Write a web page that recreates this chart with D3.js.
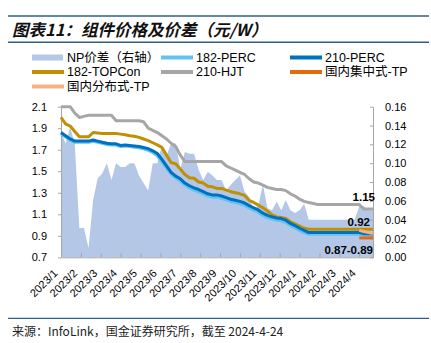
<!DOCTYPE html>
<html><head><meta charset="utf-8">
<script src="https://cdn.jsdelivr.net/npm/d3@7"></script>
<style>
body{margin:0;background:#fff;}
svg{display:block;font-family:"Liberation Sans",Arial,"Noto Sans CJK SC",sans-serif;}
</style></head><body>
<svg id="c" width="431" height="343"></svg>
<script>
// ---- data ----
const monthLabels = ["2023/1","2023/2","2023/3","2023/4","2023/5","2023/6","2023/7","2023/8","2023/9","2023/10","2023/11","2023/12","2024/1","2024/2","2024/3","2024/4"];
const leftTicks = [0.7,0.9,1.1,1.3,1.5,1.7,1.9,2.1];
const rightTicks = [0,0.02,0.04,0.06,0.08,0.10,0.12,0.14,0.16];
const weeksPerMonth = 52/12;

const npSpread = [0.133,0.121,0.138,0.121,0.031,0.031,0.010,0.061,0.084,0.089,
  0.100,0.082,0.100,0.096,0.096,0.100,0.100,0.087,0.079,0.071,
  0.100,0.100,0.119,0.108,0.121,0.121,0.094,0.112,0.110,0.110,
  0.093,0.082,0.091,0.087,0.082,0.082,0.071,0.077,0.082,0.087,
  0.070,0.064,0.050,0.055,0.077,0.052,0.050,0.059,0.050,0.061,
  0.050,0.047,0.050,0.057,0.040,0.040,0.040,0.040,0.040,0.040,
  0.040,0.040,0.040,0.040,0.040,0.054,0.054,0.050,0.050];
const perc182 = [1.85,1.82,1.79,1.77,1.77,1.77,1.77,1.78,1.77,1.76,
  1.75,1.745,1.745,1.73,1.735,1.73,1.725,1.72,1.71,1.695,
  1.675,1.645,1.59,1.53,1.475,1.44,1.41,1.375,1.345,1.325,
  1.31,1.29,1.27,1.26,1.26,1.25,1.235,1.22,1.21,1.20,
  1.185,1.16,1.14,1.12,1.09,1.07,1.056,1.045,1.04,1.025,
  0.995,0.975,0.95,0.93,0.915,0.915,0.915,0.915,0.915,0.915,
  0.915,0.915,0.915,0.915,0.915,0.915,0.905,0.905,0.905];
const perc210 = [1.86,1.83,1.80,1.78,1.78,1.78,1.78,1.79,1.78,1.77,
  1.76,1.755,1.755,1.74,1.745,1.74,1.735,1.73,1.72,1.71,
  1.69,1.665,1.61,1.55,1.49,1.455,1.43,1.39,1.365,1.345,
  1.33,1.31,1.29,1.28,1.28,1.27,1.255,1.24,1.23,1.22,
  1.205,1.18,1.16,1.14,1.11,1.09,1.076,1.065,1.06,1.045,
  1.015,0.995,0.97,0.95,0.93,0.93,0.93,0.93,0.93,0.93,
  0.93,0.93,0.93,0.93,0.93,0.93,0.92,0.92,0.92];
const topcon182 = [2.00,1.94,1.92,1.87,1.82,1.82,1.82,1.86,1.855,1.85,
  1.85,1.85,1.85,1.845,1.84,1.83,1.825,1.815,1.80,1.785,
  1.765,1.745,1.72,1.65,1.58,1.57,1.52,1.47,1.44,1.435,
  1.40,1.39,1.36,1.355,1.34,1.34,1.325,1.31,1.30,1.29,
  1.275,1.23,1.21,1.185,1.16,1.13,1.095,1.075,1.07,1.06,
  1.03,1.01,0.99,0.97,0.96,0.96,0.96,0.96,0.96,0.96,
  0.96,0.96,0.96,0.96,0.96,0.96,0.96,0.96,0.96];
const hjt210 = [2.10,2.10,2.10,2.04,2.00,2.01,2.02,2.02,2.02,2.02,
  2.02,2.02,1.97,1.97,1.97,1.97,1.97,1.97,1.96,1.90,
  1.88,1.86,1.83,1.80,1.76,1.73,1.65,1.59,1.59,1.59,
  1.59,1.59,1.59,1.59,1.59,1.59,1.55,1.53,1.51,1.49,
  1.47,1.43,1.40,1.39,1.37,1.35,1.34,1.33,1.33,1.32,
  1.29,1.27,1.24,1.22,1.21,1.20,1.19,1.19,1.19,1.19,
  1.19,1.19,1.19,1.19,1.19,1.19,1.15,1.15,1.15];
const tpCentral = Array(65).fill(null).concat([0.88,0.88,0.88,0.88]);
const tpDistributed = Array(65).fill(null).concat([0.95,0.94,0.93,0.92]);

const endLabels = ["1.15","0.92","0.87-0.89"];

// ---- layout ----
const svg = d3.select("#c");
const L = 61, R = 373, T = 106.7, B = 257.3;
const n = npSpread.length;
const x = d3.scaleLinear().domain([0, n-1]).range([L, R]);
const y = d3.scaleLinear().domain([0.7, 2.1]).range([B, T]);
const y2 = d3.scaleLinear().domain([0, 0.16]).range([B, T]);

const C = {np:"#b4c7e7", p182:"#5ec3f2", p210:"#0070c0", topcon:"#c09000", hjt:"#a6a6a6", tpc:"#e46c0a", tpd:"#f4b183"};
const rule = "#2e5f8a";

// title
svg.append("line").attr("x1",8).attr("x2",429).attr("y1",16).attr("y2",16).attr("stroke",rule).attr("stroke-width",1.5);
svg.append("line").attr("x1",8).attr("x2",429).attr("y1",42.3).attr("y2",42.3).attr("stroke",rule).attr("stroke-width",1.5);
svg.append("text").attr("x",12).attr("y",35.5)
  .attr("font-family","'Noto Sans CJK SC',sans-serif").attr("font-size",16.5).attr("font-weight","bold")
  .attr("font-style","italic").attr("fill","#111").text("图表11：组件价格及价差（元/W）");

// area
svg.append("path").datum(npSpread)
  .attr("fill", C.np)
  .attr("d", d3.area().x((d,i)=>x(i)).y0(B).y1(d=>y2(d)));

// axes
const gl = svg.append("g").attr("transform",`translate(${L},0)`)
  .call(d3.axisLeft(y).tickValues(leftTicks).tickFormat(d3.format(".1f")).tickSizeInner(3).tickSizeOuter(0).tickPadding(11));
const gr = svg.append("g").attr("transform",`translate(${R},0)`)
  .call(d3.axisRight(y2).tickValues(rightTicks).tickFormat(d3.format(".2f")).tickSizeInner(-3).tickSizeOuter(0).tickPadding(12));
const monthPos = monthLabels.map((m,i)=>i*weeksPerMonth);
const gb = svg.append("g").attr("transform",`translate(0,${B})`)
  .call(d3.axisBottom(x).tickValues(monthPos).tickFormat((d,i)=>monthLabels[i]).tickSizeInner(-4).tickSizeOuter(0));
gb.selectAll("text").attr("x",0).attr("y",0).attr("dy","0.35em").attr("text-anchor","end")
  .attr("transform","translate(-6,14) rotate(-45)");
[gl,gr,gb].forEach(g=>{
  g.selectAll("text").attr("font-size",11).attr("fill","#000").attr("font-family","'Liberation Sans',Arial,sans-serif");
  g.selectAll("line").attr("stroke","#a6a6a6");
  g.select(".domain").attr("stroke","#a6a6a6");
});

// lines
const line = d3.line().defined(d=>d!=null).x((d,i)=>x(i)).y(d=>y(d));
const series = [
  {data:hjt210, color:C.hjt, w:3},
  {data:topcon182, color:C.topcon, w:3},
  {data:perc182, color:C.p182, w:3.2},
  {data:perc210, color:C.p210, w:3},
  {data:tpDistributed, color:C.tpd, w:3},
  {data:tpCentral, color:C.tpc, w:3}
];
series.forEach(s=>{
  svg.append("path").datum(s.data).attr("fill","none").attr("stroke",s.color)
    .attr("stroke-width",s.w).attr("stroke-linejoin","round").attr("d",line);
});

// end labels
const lab = svg.append("g").attr("font-size",11.5).attr("font-weight","bold").attr("fill","#000").attr("text-anchor","end");
lab.append("text").attr("x",x(n-1)+2).attr("y",y(hjt210[n-1])-8).text(endLabels[0]);
lab.append("text").attr("x",x(n-1)-3).attr("y",y(tpDistributed[n-1])-8).text(endLabels[1]);
lab.append("text").attr("x",x(n-1)).attr("y",y(tpCentral[n-1])+16).text(endLabels[2]);

// legend
const legend = [
  {name:"NP价差（右轴）", color:C.np, type:"rect"},
  {name:"182-PERC", color:C.p182},
  {name:"210-PERC", color:C.p210},
  {name:"182-TOPCon", color:C.topcon},
  {name:"210-HJT", color:C.hjt},
  {name:"国内集中式-TP", color:C.tpc},
  {name:"国内分布式-TP", color:C.tpd}
];
const colX = [32,161,290], rowY = [57.5,72,86.5];
legend.forEach((d,i)=>{
  const cx = colX[i%3], cy = rowY[Math.floor(i/3)];
  if(d.type==="rect"){
    svg.append("rect").attr("x",cx).attr("y",cy-3).attr("width",31).attr("height",6).attr("fill",d.color);
  } else {
    svg.append("line").attr("x1",cx).attr("x2",cx+32).attr("y1",cy).attr("y2",cy)
      .attr("stroke",d.color).attr("stroke-width",4);
  }
  svg.append("text").attr("x",cx+35).attr("y",cy).attr("dy","0.35em").attr("font-size",12.5).attr("fill","#000").text(d.name);
});

// source
svg.append("line").attr("x1",8).attr("x2",429).attr("y1",318.3).attr("y2",318.3).attr("stroke",rule).attr("stroke-width",1.2);
svg.append("text").attr("x",12).attr("y",336)
  .attr("font-family","'Noto Sans CJK SC',sans-serif").attr("font-size",12).attr("fill","#222")
  .text("来源：InfoLink，国金证券研究所，截至 2024-4-24");
</script>
</body></html>
